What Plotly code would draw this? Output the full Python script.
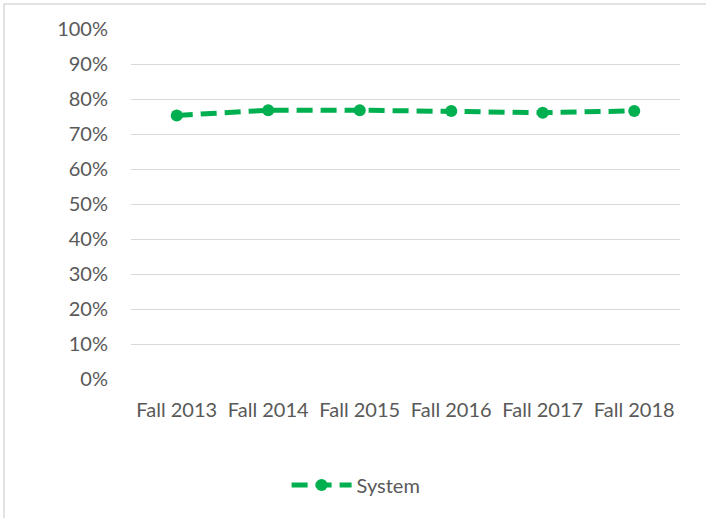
import plotly.graph_objects as go

terms = ["Fall 2013", "Fall 2014", "Fall 2015", "Fall 2016", "Fall 2017", "Fall 2018"]
system = [0.753, 0.768, 0.768, 0.766, 0.761, 0.766]

green = "#00B050"
grid = "#D9D9D9"
text_color = "#595959"
font = "Lato"

fig = go.Figure()

fig.add_trace(
    go.Scatter(
        x=terms,
        y=system,
        mode="lines+markers",
        name="System",
        line=dict(color=green, width=5, dash="16px,8px"),
        marker=dict(symbol="circle", size=12, color=green),
    )
)

# light chart-area border (left and top edges visible in the picture)
fig.add_shape(
    type="rect",
    xref="paper",
    yref="paper",
    x0=-0.2313,
    x1=1.3,
    y0=-0.7,
    y1=1.0714,
    line=dict(color=grid, width=1.5),
    layer="below",
)

fig.update_layout(
    width=706,
    height=518,
    margin=dict(l=131, r=26, t=29, b=139),
    paper_bgcolor="white",
    plot_bgcolor="white",
    font=dict(family=font, size=20, color=text_color),
    showlegend=True,
    legend=dict(
        orientation="h",
        x=0.41,
        xanchor="center",
        y=-0.303,
        yanchor="middle",
        itemwidth=60,
        font=dict(family=font, size=20, color=text_color),
    ),
    xaxis=dict(
        range=[-0.5, len(terms) - 0.5],
        showgrid=False,
        showline=False,
        zeroline=False,
        ticks="",
        ticklabelstandoff=17,
        automargin=False,
        tickfont=dict(family=font, size=20, color=text_color),
    ),
    yaxis=dict(
        range=[0, 1],
        dtick=0.1,
        tickformat=".0%",
        showgrid=True,
        gridcolor=grid,
        gridwidth=1,
        zeroline=False,
        showline=False,
        ticks="",
        ticklabelstandoff=22,
        automargin=False,
        tickfont=dict(family=font, size=20, color=text_color),
    ),
)

fig.write_html(
    "out.html",
    config={"displayModeBar": False},
    post_script="document.body.style.margin='0';",
)
